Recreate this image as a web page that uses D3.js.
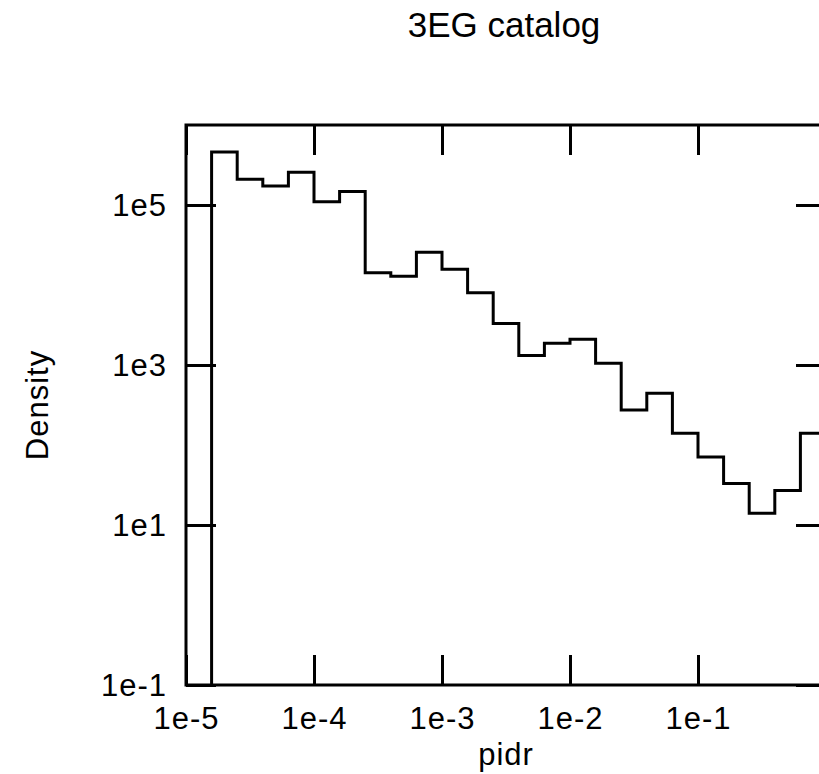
<!DOCTYPE html>
<html><head><meta charset="utf-8">
<script src="https://cdn.jsdelivr.net/npm/d3@7"></script>
<style>
html,body{margin:0;padding:0;background:#fff;overflow:hidden;}
text{font-family:"Liberation Sans",Arial,Helvetica,sans-serif;fill:#000;}
</style></head>
<body><svg id="chart" width="819" height="774"></svg>
<script>
// Data
const title = "3EG catalog";
const xLabel = "pidr";
const yLabel = "Density";
const xTicks = [1e-5, 1e-4, 1e-3, 1e-2, 1e-1, 1e0];
const xTickLabels = ["1e-5", "1e-4", "1e-3", "1e-2", "1e-1", ""];
const yTicks = [1e-1, 1e1, 1e3, 1e5];
const yTickLabels = ["1e-1", "1e1", "1e3", "1e5"];
const logBinEdges = [-4.8, -4.6, -4.4, -4.2, -4.0, -3.8, -3.6, -3.4, -3.2, -3.0, -2.8, -2.6, -2.4,
                     -2.2, -2.0, -1.8, -1.6, -1.4, -1.2, -1.0, -0.8, -0.6, -0.4, -0.2, 0.0];
const density = [4.6e5, 2.1e5, 1.73e5, 2.57e5, 1.1e5, 1.47e5, 1.42e4, 1.29e4, 2.56e4, 1.57e4,
                 8.0e3, 3.3e3, 1.31e3, 1.87e3, 2.1e3, 1.05e3, 274, 443, 140, 71, 33, 14, 27, 140];

const svg = d3.select("#chart");
const L = 186, R = 826, T = 125, B = 685;
const x = d3.scaleLog().domain([1e-5, 1e0]).range([L, R]);
const y = d3.scaleLog().domain([1e-1, 1e6]).range([B, T]);
const tickLen = 30;

// axes (ticks point inward)
const gB = svg.append("g").attr("transform", `translate(0,${B})`)
  .call(d3.axisBottom(x).tickValues(xTicks).tickSizeInner(-tickLen).tickSizeOuter(0)
        .tickFormat((d, i) => xTickLabels[i]).tickPadding(0));
const gT = svg.append("g").attr("transform", `translate(0,${T})`)
  .call(d3.axisTop(x).tickValues(xTicks).tickSizeInner(-tickLen).tickSizeOuter(0).tickFormat(""));
const gL = svg.append("g").attr("transform", `translate(${L},0)`)
  .call(d3.axisLeft(y).tickValues(yTicks).tickSizeInner(-tickLen).tickSizeOuter(0)
        .tickFormat((d, i) => yTickLabels[i]).tickPadding(0));
const gR = svg.append("g").attr("transform", `translate(${R},0)`)
  .call(d3.axisRight(y).tickValues(yTicks).tickSizeInner(-tickLen).tickSizeOuter(0).tickFormat(""));

[gB, gT, gL, gR].forEach(g => {
  g.select(".domain").remove();
  g.selectAll(".tick line").attr("stroke", "#000").attr("stroke-width", 3);
});
gB.selectAll(".tick text").attr("y", 44).attr("dy", null)
  .style("font-size", "31px").style("letter-spacing", "1px").attr("fill", "#000");
gL.selectAll(".tick text").attr("x", -19).attr("dy", "0.35em")
  .style("font-size", "31px").style("letter-spacing", "1px").attr("fill", "#000");

// frame
svg.append("rect").attr("x", L).attr("y", T).attr("width", R - L).attr("height", B - T)
  .attr("fill", "none").attr("stroke", "#000").attr("stroke-width", 3);

// histogram steps
const edges = logBinEdges.map(e => Math.pow(10, e));
const pts = [[edges[0], 1e-1]];
density.forEach((v, i) => pts.push([edges[i], v]));
pts.push([edges[edges.length - 1], density[density.length - 1]]);
pts.push([edges[edges.length - 1], 1e-1]);
const line = d3.line().x(d => x(d[0])).y(d => y(d[1])).curve(d3.curveStepAfter);
svg.append("path").attr("d", line(pts)).attr("fill", "none")
  .attr("stroke", "#000").attr("stroke-width", 3).attr("stroke-linejoin", "miter");

// titles
svg.append("text").attr("x", 504).attr("y", 37).attr("text-anchor", "middle")
  .style("font-size", "35px").text(title);
svg.append("text").attr("x", (L + R) / 2).attr("y", 765).attr("text-anchor", "middle")
  .style("font-size", "31px").style("letter-spacing", "1px").text(xLabel);
svg.append("text").attr("transform", `translate(48,${(T + B) / 2}) rotate(-90)`)
  .attr("text-anchor", "middle").style("font-size", "31px").style("letter-spacing", "1px").text(yLabel);
</script></body></html>
